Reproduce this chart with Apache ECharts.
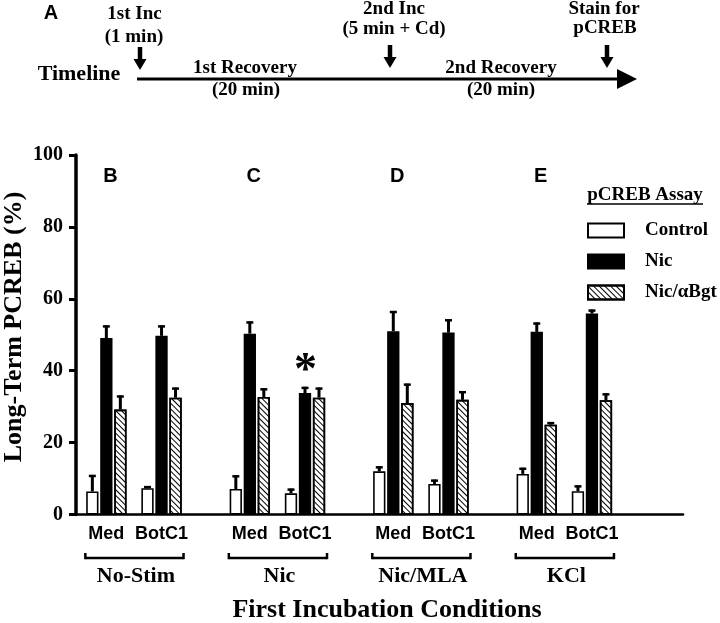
<!DOCTYPE html>
<html><head><meta charset="utf-8">
<script src="https://cdn.jsdelivr.net/npm/echarts@6/dist/echarts.min.js"></script>
<style>html,body{margin:0;padding:0;background:#fff}#c{width:720px;height:623px}</style>
</head><body><div id="c"></div>
<script>
// ---- data ----
const groups = ['No-Stim', 'Nic', 'Nic/MLA', 'KCl'];
const subGroups = ['Med', 'BotC1'];
const panelLetters = ['B', 'C', 'D', 'E'];
const seriesNames = ['Control', 'Nic', 'Nic/\u03b1Bgt'];
const controlVals = [6.4, 7.3, 7.1, 5.9, 12.0, 8.5, 11.3, 6.5];
const controlErr  = [4.6, 0.6, 3.8, 1.3, 1.4, 1.2, 1.7, 1.6];
const nicVals     = [49.1, 49.7, 50.3, 33.8, 51.0, 50.6, 50.8, 55.9];
const nicErr      = [3.5, 2.9, 3.4, 1.7, 5.6, 3.7, 2.6, 1.1];
const bgtVals     = [29.2, 32.5, 32.7, 32.5, 31.0, 31.9, 25.0, 31.8];
const bgtErr      = [3.9, 2.8, 2.4, 2.8, 5.4, 2.4, 0.7, 1.9];
const yTicks = [0, 20, 40, 60, 80, 100];
const yTitle = 'Long-Term PCREB (%)';
const xTitle = 'First Incubation Conditions';
const legendTitle = 'pCREB Assay';

// ---- layout helpers ----
const SERIF = 'Liberation Serif', SANS = 'Liberation Sans';
const SLOTS = 110, PERIOD = 26, FIRST = 5, SUBGAP = 10;
const cats = [], catLabel = {};
for (let i = 0; i < SLOTS; i++) cats.push('slot' + i);
groups.forEach((g, gi) => subGroups.forEach((s, si) => {
  const name = g + '|' + s;
  cats[FIRST + gi * PERIOD + si * SUBGAP] = name;
  catLabel[name] = s;
}));
const keyOf = (gi, si) => groups[gi] + '|' + subGroups[si];
const mk = vals => groups.flatMap((g, gi) => subGroups.map((s, si) => [keyOf(gi, si), vals[gi * 2 + si]]));
const mkErr = (vals, errs) => groups.flatMap((g, gi) => subGroups.map((s, si) => [keyOf(gi, si), vals[gi * 2 + si], errs[gi * 2 + si]]));

const valsList = [controlVals, nicVals, bgtVals];
const errList = [controlErr, nicErr, bgtErr];
const offsets = [-14, 0, 14];
const styles = [
  {color: '#fff', borderColor: '#000', borderWidth: 1.6},
  {color: '#000', borderColor: '#000', borderWidth: 1.6},
  {color: '#fff', borderColor: '#000', borderWidth: 1.6,
   decal: {symbol: 'rect', symbolSize: 1, dashArrayX: [1, 0], dashArrayY: [0.9, 2.3], rotation: Math.PI / 4, color: '#000'}}
];

const series = [];
valsList.forEach((v, k) => {
  series.push({
    name: seriesNames[k], type: 'bar', data: mk(v), barWidth: 12.3, barGap: '14%',
    itemStyle: styles[k], emphasis: {disabled: true}, animation: false
  });
});
valsList.forEach((v, k) => {
  series.push({
    type: 'custom', data: mkErr(v, errList[k]), encode: {x: 0, y: 1}, z: 5, animation: false,
    renderItem: function (params, api) {
      const xi = api.value(0), val = api.value(1), e = api.value(2);
      const p0 = api.coord([xi, val]), p1 = api.coord([xi, val + e]);
      const x = p0[0] + offsets[k];
      return {type: 'group', children: [
        {type: 'line', shape: {x1: x, y1: p0[1], x2: x, y2: p1[1]}, style: {stroke: '#000', lineWidth: 3}},
        {type: 'line', shape: {x1: x - 3.5, y1: p1[1] + 1, x2: x + 3.5, y2: p1[1] + 1}, style: {stroke: '#000', lineWidth: 2.5}}
      ]};
    }
  });
});

const chart = echarts.init(document.getElementById('c'), null, {renderer: 'canvas'});
chart.setOption({
  backgroundColor: '#fff',
  animation: false,
  grid: {left: 76, right: 37, top: 155, bottom: 108.5},
  legend: {
    data: seriesNames.map(n => ({name: n, icon: 'rect'})), orient: 'vertical', left: 582, top: 216,
    itemWidth: 36, itemHeight: 14, itemGap: 12, selectedMode: false,
    textStyle: {fontFamily: SERIF, fontWeight: 'bold', fontSize: 19, color: '#000', padding: [0, 0, 0, 16]}
  },
  xAxis: {
    type: 'category', data: cats, boundaryGap: true,
    axisLine: {lineStyle: {color: '#000', width: 2.7}},
    axisTick: {show: false},
    axisLabel: {interval: 0, margin: 11, formatter: v => catLabel[v] || '',
      fontFamily: SANS, fontWeight: 'bold', fontSize: 18, color: '#000'}
  },
  yAxis: {
    type: 'value', min: yTicks[0], max: yTicks[yTicks.length - 1], interval: yTicks[1] - yTicks[0],
    axisLine: {show: true, lineStyle: {color: '#000', width: 3.5}},
    axisTick: {show: true, length: 7, lineStyle: {color: '#000', width: 3}},
    splitLine: {show: false},
    axisLabel: {margin: 13, fontFamily: SERIF, fontWeight: 'bold', fontSize: 20, color: '#000'}
  },
  series: series
});

// ---- annotations anchored on the axes ----
const g = [];
const T = (text, x, y, size, font, extra) => Object.assign({type: 'text', x: x, y: y,
  style: {text: text, fontFamily: font || SERIF, fontWeight: 'bold', fontSize: size, fill: '#000', align: 'center', verticalAlign: 'middle'}}, extra || {});
const L = (x1, y1, x2, y2, w) => ({type: 'line', shape: {x1, y1, x2, y2}, style: {stroke: '#000', lineWidth: w}});

const axisY = chart.convertToPixel({gridIndex: 0}, [cats[0], 0])[1];
groups.forEach((gname, gi) => {
  const xm = chart.convertToPixel({xAxisIndex: 0}, keyOf(gi, 0));
  const xb = chart.convertToPixel({xAxisIndex: 0}, keyOf(gi, 1));
  const by = axisY + 43.5;
  g.push(L(xm - 21, by, xb + 22, by, 2.5));
  g.push(L(xm - 21, by + 1.2, xm - 21, by - 5, 2.5));
  g.push(L(xb + 22, by + 1.2, xb + 22, by - 5, 2.5));
  g.push(T(gname, (xm + xb) / 2 + 2, axisY + 62, 22));
  g.push(T(panelLetters[gi], xm + 4, 176, 20, SANS));
});
// significance asterisk over Nic / BotC1 Nic bar
const ap = chart.convertToPixel({gridIndex: 0}, [keyOf(1, 1), nicVals[3] + nicErr[3]]);
g.push(T('*', ap[0] + 0.5, ap[1] - 15, 46));

g.push(T(yTitle, 14, 327, 26, SERIF, {rotation: Math.PI / 2}));
g.push(T(xTitle, 387, 610, 26));
// legend title
g.push(T(legendTitle, 645, 195, 19));
g.push(L(587, 204, 703, 204, 1.5));

// timeline (panel A)
g.push(T('A', 51, 13, 20, SANS));
g.push(T('Timeline', 79, 74, 22));
g.push(L(137, 79, 622, 79, 3));
g.push({type: 'polygon', shape: {points: [[617, 69], [637, 79], [617, 89]]}, style: {fill: '#000'}});
const arrow = (x, y0, y1) => {
  g.push(L(x, y0, x, y1 - 10, 4.5));
  g.push({type: 'polygon', shape: {points: [[x - 6.5, y1 - 11], [x + 6.5, y1 - 11], [x, y1]]}, style: {fill: '#000'}});
};
arrow(140, 47, 70);
arrow(390, 45, 68);
arrow(607, 45, 68);
g.push(T('1st Inc', 134.5, 14, 19));
g.push(T('(1 min)', 134, 37, 19));
g.push(T('2nd Inc', 394, 9, 19));
g.push(T('(5 min + Cd)', 394, 29, 19));
g.push(T('Stain for', 604, 9, 19));
g.push(T('pCREB', 605, 28, 19));
g.push(T('1st Recovery', 245, 68, 19));
g.push(T('(20 min)', 246, 90, 19));
g.push(T('2nd Recovery', 501, 68, 19));
g.push(T('(20 min)', 501, 90, 19));

chart.setOption({graphic: {elements: g}});
</script></body></html>
